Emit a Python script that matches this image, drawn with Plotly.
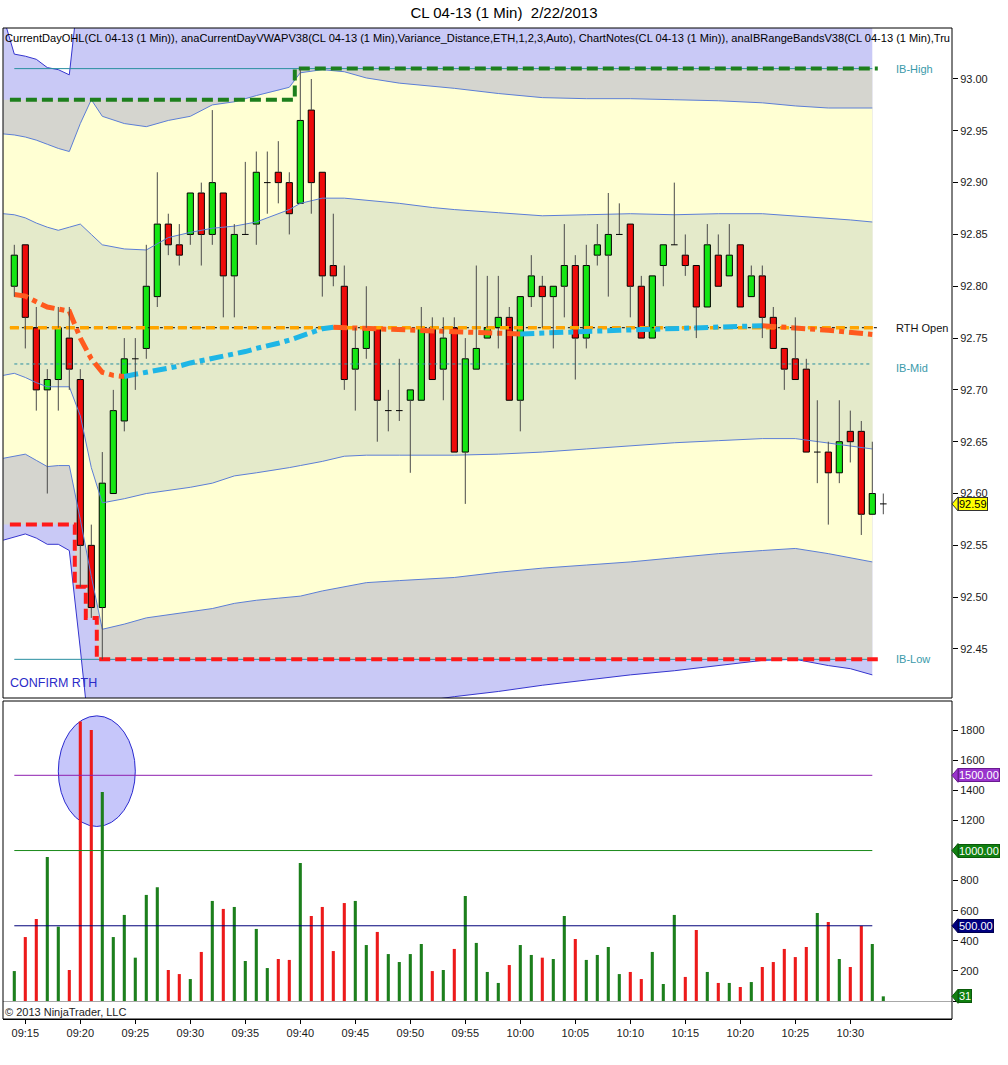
import numpy as np
import plotly.graph_objects as go

# ---------------- data ----------------
TITLE = "CL 04-13 (1 Min)  2/22/2013"
INDICATOR_LABEL = ("CurrentDayOHL(CL 04-13 (1 Min)), anaCurrentDayVWAPV38(CL 04-13 (1 Min),Variance_Distance,"
                   "ETH,1,2,3,Auto), ChartNotes(CL 04-13 (1 Min)), anaIBRangeBandsV38(CL 04-13 (1 Min),Tru")
START_TIME = "09:14"          # first bar on the chart

OPEN = [92.80, 92.84, 92.76, 92.70, 92.71, 92.75, 92.71, 92.55, 92.49, 92.60,
        92.67, 92.73, 92.74, 92.79, 92.86, 92.84, 92.85, 92.89, 92.85, 92.89,
        92.81, 92.85, 92.86, 92.90, 92.91, 92.90, 92.88, 92.97, 92.91, 92.82,
        92.80, 92.72, 92.74, 92.76, 92.68, 92.68, 92.69, 92.69, 92.76, 92.72,
        92.76, 92.64, 92.72, 92.75, 92.76, 92.77, 92.69, 92.79, 92.80, 92.79,
        92.80, 92.82, 92.75, 92.83, 92.83, 92.85, 92.86, 92.80, 92.75, 92.82,
        92.84, 92.83, 92.82, 92.78, 92.83, 92.81, 92.84, 92.79, 92.81, 92.77,
        92.74, 92.73, 92.72, 92.64, 92.64, 92.62, 92.66, 92.66, 92.58, 92.59]
HIGH = [92.84, 92.84, 92.78, 92.72, 92.78, 92.78, 92.72, 92.57, 92.64, 92.70,
        92.75, 92.75, 92.84, 92.91, 92.87, 92.86, 92.89, 92.90, 92.97, 92.89,
        92.86, 92.92, 92.93, 92.93, 92.94, 92.91, 93.01, 93.00, 92.91, 92.87,
        92.82, 92.76, 92.80, 92.76, 92.70, 92.73, 92.70, 92.78, 92.77, 92.77,
        92.77, 92.75, 92.82, 92.81, 92.81, 92.78, 92.79, 92.83, 92.81, 92.80,
        92.86, 92.83, 92.84, 92.86, 92.89, 92.88, 92.86, 92.81, 92.81, 92.84,
        92.90, 92.85, 92.82, 92.86, 92.85, 92.86, 92.84, 92.82, 92.82, 92.78,
        92.74, 92.77, 92.73, 92.69, 92.65, 92.69, 92.68, 92.67, 92.65, 92.60]
LOW = [92.79, 92.74, 92.68, 92.60, 92.68, 92.70, 92.51, 92.48, 92.44, 92.60,
       92.66, 92.70, 92.73, 92.78, 92.83, 92.82, 92.84, 92.82, 92.84, 92.77,
       92.77, 92.85, 92.84, 92.87, 92.88, 92.85, 92.88, 92.87, 92.79, 92.80,
       92.70, 92.68, 92.73, 92.65, 92.66, 92.67, 92.62, 92.69, 92.71, 92.69,
       92.64, 92.59, 92.72, 92.75, 92.74, 92.69, 92.66, 92.78, 92.76, 92.74,
       92.77, 92.71, 92.74, 92.82, 92.79, 92.85, 92.77, 92.75, 92.75, 92.80,
       92.84, 92.81, 92.75, 92.78, 92.80, 92.81, 92.78, 92.79, 92.75, 92.74,
       92.70, 92.71, 92.64, 92.61, 92.57, 92.61, 92.63, 92.56, 92.58, 92.58]
CLOSE = [92.83, 92.77, 92.70, 92.71, 92.76, 92.72, 92.55, 92.49, 92.61, 92.68,
         92.73, 92.73, 92.80, 92.86, 92.84, 92.83, 92.89, 92.85, 92.90, 92.81,
         92.85, 92.85, 92.91, 92.90, 92.90, 92.87, 92.96, 92.90, 92.81, 92.81,
         92.71, 92.74, 92.76, 92.69, 92.68, 92.68, 92.70, 92.76, 92.71, 92.75,
         92.64, 92.73, 92.74, 92.76, 92.77, 92.69, 92.79, 92.81, 92.79, 92.80,
         92.82, 92.75, 92.82, 92.84, 92.85, 92.85, 92.80, 92.75, 92.81, 92.84,
         92.84, 92.82, 92.78, 92.84, 92.80, 92.83, 92.78, 92.81, 92.77, 92.74,
         92.72, 92.71, 92.64, 92.64, 92.62, 92.65, 92.65, 92.58, 92.60, 92.59]
VOLUME = [199, 425, 545, 957, 494, 206, 1857, 1801, 1389, 425,
          572, 288, 705, 756, 206, 179, 146, 326, 665, 612,
          625, 266, 479, 219, 279, 273, 917, 565, 625, 332,
          651, 665, 372, 459, 312, 259, 312, 379, 199, 206,
          346, 698, 386, 193, 120, 239, 372, 306, 288, 279,
          565, 412, 273, 306, 359, 179, 193, 146, 326, 113,
          572, 160, 472, 193, 120, 120, 93, 126, 226, 259,
          346, 292, 359, 585, 525, 279, 226, 499, 379, 31]

# session VWAP, one value per completed bar (09:14 .. 10:32)
VWAP = [92.7920, 92.7905, 92.7850, 92.7800, 92.7780, 92.7760, 92.7500, 92.7300, 92.7170, 92.7140,
        92.7130, 92.7150, 92.7160, 92.7180, 92.7210, 92.7230, 92.7260, 92.7280, 92.7300, 92.7320,
        92.7350, 92.7370, 92.7400, 92.7420, 92.7450, 92.7480, 92.7520, 92.7560, 92.7590, 92.7605,
        92.7600, 92.7596, 92.7592, 92.7588, 92.7585, 92.7581, 92.7578, 92.7574, 92.7570, 92.7566,
        92.7562, 92.7558, 92.7555, 92.7551, 92.7547, 92.7544, 92.7540, 92.7545, 92.7548, 92.7552,
        92.7556, 92.7560, 92.7563, 92.7567, 92.7571, 92.7575, 92.7578, 92.7582, 92.7586, 92.7590,
        92.7593, 92.7597, 92.7601, 92.7605, 92.7608, 92.7612, 92.7615, 92.7618, 92.7620, 92.7614,
        92.7607, 92.7600, 92.7592, 92.7584, 92.7575, 92.7565, 92.7555, 92.7545, 92.7535]

PRE_IB_HIGH = 92.98
PRE_IB_LOW = 92.57
RTH_OPEN = 92.76

# IB range bands (bar offsets from 09:14, price)
BAND_T = [-1, 0, 1, 2, 3, 4, 5, 6, 7, 8, 10, 12, 14, 16, 18, 20, 22, 24, 25, 26,
          28, 30, 32, 35, 38, 40, 44, 48, 52, 56, 60, 64, 68, 71, 74, 76, 78]
BAND_OUTER_TOP = [93.060, 93.024, 93.022, 93.019, 93.011, 93.009, 93.004, 93.100, 93.120, 93.120,
                  93.120, 93.120, 93.120, 93.120, 93.120, 93.120, 93.120, 93.120, 93.120, 93.120,
                  93.120, 93.120, 93.120, 93.120, 93.120, 93.120, 93.120, 93.120, 93.120, 93.120,
                  93.120, 93.120, 93.120, 93.120, 93.120, 93.120, 93.120]
BAND_UPPER = [92.947, 92.946, 92.944, 92.941, 92.937, 92.933, 92.930, 92.957, 92.980, 92.964,
              92.957, 92.954, 92.960, 92.964, 92.975, 92.978, 92.984, 92.989, 92.992, 93.006,
              93.009, 93.007, 93.001, 92.996, 92.993, 92.991, 92.986, 92.982, 92.981, 92.981,
              92.980, 92.979, 92.977, 92.974, 92.972, 92.972, 92.972]
BAND_MID_TOP = [92.870, 92.869, 92.866, 92.861, 92.857, 92.854, 92.857, 92.860, 92.850, 92.840,
                92.836, 92.835, 92.847, 92.852, 92.856, 92.858, 92.862, 92.870, 92.874, 92.880,
                92.885, 92.885, 92.883, 92.880, 92.876, 92.874, 92.871, 92.868, 92.869, 92.870,
                92.869, 92.870, 92.870, 92.868, 92.866, 92.864, 92.862]
BAND_MID_BOT = [92.714, 92.716, 92.712, 92.707, 92.703, 92.703, 92.703, 92.675, 92.625, 92.591,
                92.595, 92.600, 92.603, 92.606, 92.610, 92.617, 92.620, 92.623, 92.625, 92.627,
                92.631, 92.636, 92.637, 92.637, 92.637, 92.637, 92.638, 92.640, 92.643, 92.646,
                92.649, 92.651, 92.653, 92.653, 92.649, 92.646, 92.643]
BAND_LOWER = [92.634, 92.636, 92.638, 92.632, 92.626, 92.627, 92.627, 92.575, 92.520, 92.469,
              92.474, 92.480, 92.483, 92.486, 92.489, 92.494, 92.497, 92.499, 92.500, 92.501,
              92.506, 92.510, 92.514, 92.516, 92.518, 92.519, 92.524, 92.528, 92.531, 92.534,
              92.538, 92.542, 92.545, 92.547, 92.542, 92.538, 92.534]
BAND_OUTER_BOT = [92.555, 92.558, 92.561, 92.557, 92.551, 92.551, 92.545, 92.450, 92.350, 92.350,
                  92.355, 92.360, 92.364, 92.368, 92.371, 92.374, 92.377, 92.379, 92.380, 92.381,
                  92.384, 92.387, 92.390, 92.395, 92.401, 92.404, 92.409, 92.415, 92.420, 92.425,
                  92.429, 92.434, 92.439, 92.440, 92.434, 92.431, 92.425]

VOL_LEVELS = [1500, 1000, 500]
TIME_LABELS = ["09:15", "09:20", "09:25", "09:30", "09:35", "09:40", "09:45", "09:50", "09:55",
               "10:00", "10:05", "10:10", "10:15", "10:20", "10:25", "10:30"]
PRICE_TICKS = [92.45, 92.50, 92.55, 92.60, 92.65, 92.70, 92.75, 92.80, 92.85, 92.90, 92.95, 93.00]
VOLUME_TICKS = [0, 200, 400, 600, 800, 1000, 1200, 1400, 1600, 1800]
HIDDEN_VOLUME_LABELS = [0, 1000]      # covered by the level / last-value tags
NOTE_TEXT = "CONFIRM RTH"
NOTE_POS = (-0.55, 92.417)
NOTE_ELLIPSE = dict(t0=4.0, t1=11.0, v0=1160, v1=1895)
COPYRIGHT = "© 2013 NinjaTrader, LLC"

# ---------------- layout constants ----------------
W, H = 1008, 1065
PL, PR, PT, PB = 3, 952, 28, 1019
UP_BOTTOM_PX, LO_TOP_PX = 698, 701
X_RANGE = [-1.027, 85.245]
P_RANGE = [92.4027, 93.0492]
V_RANGE = [-119.6, 1993.8]
FONT = "Liberation Sans"

def px_x(px):
    return (px - PL) / (PR - PL)

def px_y(py):
    return (PB - py) / (PB - PT)

UP_DOM = [px_y(UP_BOTTOM_PX), 1.0]
LO_DOM = [0.0, px_y(LO_TOP_PX)]

def val_to_paper(v, rng, dom):
    return dom[0] + (v - rng[0]) / (rng[1] - rng[0]) * (dom[1] - dom[0])

def tmin(s):
    h, m = s.split(":")
    return int(h) * 60 + int(m)

o = np.array(OPEN); h = np.array(HIGH); l = np.array(LOW); c = np.array(CLOSE)
n = len(o)
idx = np.arange(n)
last_done = n - 2   # last completed bar drawn by indicators

ib_high = np.maximum(PRE_IB_HIGH, np.maximum.accumulate(h[:last_done + 1]))
ib_low = np.minimum(PRE_IB_LOW, np.minimum.accumulate(l[:last_done + 1]))
ib_mid = (ib_high[-1] + ib_low[-1]) / 2

COL_LAV = "#C9C9F6"
COL_GRAY = "#D5D5CF"
COL_YEL = "#FFFFD3"
COL_LGREEN = "#E4EACA"
COL_BAND = "#5C7ED6"
COL_OUTER = "#3535CF"
COL_TEAL = "#2A8FA0"

fig = go.Figure()
shapes = []

def poly_path(xs, top, bot):
    pts = list(zip(xs, top)) + list(zip(xs[::-1], bot[::-1]))
    return "M " + " L ".join(f"{x:.4f},{y:.5f}" for x, y in pts) + " Z"

def step_points(vals, x_start, x_end):
    pts = [(x_start, vals[0])]
    for k in range(1, len(vals)):
        if vals[k] != vals[k - 1]:
            pts.append((k - 0.5, vals[k - 1]))
            pts.append((k - 0.5, vals[k]))
    pts.append((x_end, vals[-1]))
    return pts

bt = list(BAND_T)
shapes.append(dict(type="path", xref="x", yref="y", layer="below", line=dict(width=0),
                   fillcolor=COL_LAV, path=poly_path(bt, BAND_OUTER_TOP, BAND_OUTER_BOT)))
top_pts = step_points(ib_high, BAND_T[0], BAND_T[-1])
bot_pts = step_points(ib_low, BAND_T[0], BAND_T[-1])
gpts = top_pts + bot_pts[::-1]
shapes.append(dict(type="path", xref="x", yref="y", layer="below", line=dict(width=0),
                   fillcolor=COL_GRAY,
                   path="M " + " L ".join(f"{x:.4f},{y:.5f}" for x, y in gpts) + " Z"))
shapes.append(dict(type="path", xref="x", yref="y", layer="below", line=dict(width=0),
                   fillcolor=COL_YEL, path=poly_path(bt, BAND_UPPER, BAND_LOWER)))
shapes.append(dict(type="path", xref="x", yref="y", layer="below", line=dict(width=0),
                   fillcolor=COL_LGREEN, path=poly_path(bt, BAND_MID_TOP, BAND_MID_BOT)))

for arr, col in [(BAND_OUTER_TOP, COL_OUTER), (BAND_UPPER, COL_BAND), (BAND_MID_TOP, COL_BAND),
                 (BAND_MID_BOT, COL_BAND), (BAND_LOWER, COL_BAND), (BAND_OUTER_BOT, COL_OUTER)]:
    fig.add_trace(go.Scatter(x=bt, y=arr, mode="lines", line=dict(color=col, width=1),
                             hoverinfo="skip", showlegend=False, xaxis="x", yaxis="y"))

for val, dash in [(ib_high[-1], "solid"), (ib_low[-1], "solid"), (ib_mid, "3px,3px")]:
    fig.add_trace(go.Scatter(x=[0, last_done], y=[val, val], mode="lines",
                             line=dict(color=COL_TEAL, width=1, dash=dash),
                             hoverinfo="skip", showlegend=False, xaxis="x", yaxis="y"))

fig.add_trace(go.Scatter(x=[-0.4, last_done + 0.5], y=[RTH_OPEN, RTH_OPEN], mode="lines",
                         line=dict(color="black", width=1, dash="dot"),
                         hoverinfo="skip", showlegend=False, xaxis="x", yaxis="y"))
fig.add_trace(go.Scatter(x=[-0.4, last_done + 0.5], y=[RTH_OPEN, RTH_OPEN], mode="lines",
                         line=dict(color="#FFA500", width=3.5, dash="9px,5px"),
                         hoverinfo="skip", showlegend=False, xaxis="x", yaxis="y"))

step_x = [-0.4] + [k + 0.5 for k in range(last_done)] + [last_done + 0.5]
fig.add_trace(go.Scatter(x=step_x, y=list(ib_high) + [ib_high[-1]], mode="lines", line_shape="hv",
                         line=dict(color="#1D7F1D", width=4, dash="11px,5px"),
                         hoverinfo="skip", showlegend=False, xaxis="x", yaxis="y"))
fig.add_trace(go.Scatter(x=step_x, y=list(ib_low) + [ib_low[-1]], mode="lines", line_shape="hv",
                         line=dict(color="#FF1A1A", width=4, dash="11px,5px"),
                         hoverinfo="skip", showlegend=False, xaxis="x", yaxis="y"))

vw = np.array(VWAP)
up_x, up_y, dn_x, dn_y = [], [], [], []
seg_rising = [vw[i + 1] >= vw[i] for i in range(len(vw) - 1)]
i = 0
while i < len(seg_rising):
    j = i
    while j + 1 < len(seg_rising) and seg_rising[j + 1] == seg_rising[i]:
        j += 1
    xs = list(range(i, j + 2)); ys = list(vw[i:j + 2])
    if seg_rising[i]:
        up_x += xs + [None]; up_y += ys + [None]
    else:
        dn_x += xs + [None]; dn_y += ys + [None]
    i = j + 1
fig.add_trace(go.Scatter(x=dn_x, y=dn_y, mode="lines",
                         line=dict(color="#FF5A1E", width=5, dash="14px,5px,5px,5px"),
                         hoverinfo="skip", showlegend=False, xaxis="x", yaxis="y"))
fig.add_trace(go.Scatter(x=up_x, y=up_y, mode="lines",
                         line=dict(color="#1EB6E6", width=5, dash="14px,5px,5px,5px"),
                         hoverinfo="skip", showlegend=False, xaxis="x", yaxis="y"))

wx, wy = [], []
for k in range(n):
    top = max(o[k], c[k]); bot = min(o[k], c[k])
    if h[k] > top:
        wx += [k, k, None]; wy += [h[k], top, None]
    if l[k] < bot:
        wx += [k, k, None]; wy += [bot, l[k], None]
fig.add_trace(go.Scatter(x=wx, y=wy, mode="lines", line=dict(color="#4A4A4A", width=1),
                         hoverinfo="skip", showlegend=False, xaxis="x", yaxis="y"))
dx, dy = [], []
for k in range(n):
    if o[k] == c[k]:
        dx += [k - 0.3, k + 0.3, None]; dy += [o[k], o[k], None]
fig.add_trace(go.Scatter(x=dx, y=dy, mode="lines", line=dict(color="black", width=1),
                         hoverinfo="skip", showlegend=False, xaxis="x", yaxis="y"))
up_m = c > o; dn_m = c < o
fig.add_trace(go.Bar(x=idx[up_m], y=(c - o)[up_m], base=o[up_m], width=0.56,
                     marker=dict(color="#14E614", line=dict(color="black", width=1)),
                     hoverinfo="skip", showlegend=False, xaxis="x", yaxis="y"))
fig.add_trace(go.Bar(x=idx[dn_m], y=(o - c)[dn_m], base=c[dn_m], width=0.56,
                     marker=dict(color="#EE0A0A", line=dict(color="black", width=1)),
                     hoverinfo="skip", showlegend=False, xaxis="x", yaxis="y"))

vol = np.array(VOLUME)
g_m = c >= o
fig.add_trace(go.Bar(x=idx[g_m], y=vol[g_m], width=0.28, marker=dict(color="#1C7F1C", line=dict(width=0)),
                     hoverinfo="skip", showlegend=False, xaxis="x2", yaxis="y2"))
fig.add_trace(go.Bar(x=idx[~g_m], y=vol[~g_m], width=0.28, marker=dict(color="#EC1A1A", line=dict(width=0)),
                     hoverinfo="skip", showlegend=False, xaxis="x2", yaxis="y2"))
LEVEL_COLS = {1500: "#8E1FB0", 1000: "#1A8A1A", 500: "#00007A"}
for lv in VOL_LEVELS:
    fig.add_trace(go.Scatter(x=[0, last_done], y=[lv, lv], mode="lines",
                             line=dict(color=LEVEL_COLS[lv], width=1),
                             hoverinfo="skip", showlegend=False, xaxis="x2", yaxis="y2"))

shapes.append(dict(type="circle", xref="x2", yref="y2", layer="below",
                   x0=NOTE_ELLIPSE["t0"], x1=NOTE_ELLIPSE["t1"],
                   y0=NOTE_ELLIPSE["v0"], y1=NOTE_ELLIPSE["v1"],
                   fillcolor="rgba(192,192,250,0.9)", line=dict(color="#2A2AD0", width=1)))

for dom in (UP_DOM, LO_DOM):
    shapes.append(dict(type="rect", xref="paper", yref="paper", x0=0, x1=1, y0=dom[0], y1=dom[1],
                       line=dict(color="black", width=1), fillcolor="rgba(0,0,0,0)", layer="above"))

annotations = []
def add_tag(value, rng, dom, yref, text, bg, fg, border):
    yp = val_to_paper(value, rng, dom)
    hh = 7.0 / (PB - PT)
    x0 = px_x(PR); x1 = px_x(PR + 6)
    shapes.append(dict(type="path", xref="paper", yref="paper", layer="above",
                       path=f"M {x0},{yp} L {x1},{yp + hh} L {x1},{yp - hh} Z",
                       fillcolor=bg, line=dict(color=border, width=1)))
    annotations.append(dict(x=x1, xref="paper", xanchor="left", y=value, yref=yref, yanchor="middle",
                            text=text, showarrow=False, bgcolor=bg, bordercolor=border, borderwidth=1,
                            borderpad=0, font=dict(family=FONT, size=11, color=fg)))

add_tag(CLOSE[-1], P_RANGE, UP_DOM, "y", f"{CLOSE[-1]:.2f}", "#FFFF00", "black", "#333333")
add_tag(1500, V_RANGE, LO_DOM, "y2", f"{1500:.2f}", "#9933CC", "white", "#6A1A90")
add_tag(1000, V_RANGE, LO_DOM, "y2", f"{1000:.2f}", "#108010", "white", "#0A5A0A")
add_tag(500, V_RANGE, LO_DOM, "y2", f"{500:.2f}", "#00007F", "white", "#000050")
add_tag(VOLUME[-1], V_RANGE, LO_DOM, "y2", f"{VOLUME[-1]}", "#108010", "white", "#0A5A0A")

for text, val, col in [("IB-High", ib_high[-1], "#3A9AAA"), ("RTH Open", RTH_OPEN, "#111111"),
                       ("IB-Mid", ib_mid - 0.004, "#3A9AAA"), ("IB-Low", ib_low[-1], "#3A9AAA")]:
    annotations.append(dict(x=last_done + 1.95, xref="x", xanchor="left", y=val, yref="y", yanchor="middle",
                            text=text, showarrow=False, font=dict(family=FONT, size=11, color=col)))

annotations.append(dict(x=NOTE_POS[0], xref="x", xanchor="left", y=NOTE_POS[1], yref="y", yanchor="middle",
                        text=NOTE_TEXT, showarrow=False, font=dict(family=FONT, size=12.5, color="#2B2BC8")))
annotations.append(dict(x=0.0, xref="paper", xanchor="left", y=px_y(38), yref="paper", yanchor="middle",
                        text=INDICATOR_LABEL, showarrow=False,
                        font=dict(family=FONT, size=11.1, color="black")))
annotations.append(dict(x=0.0, xref="paper", xanchor="left", y=px_y(1012), yref="paper", yanchor="middle",
                        text=COPYRIGHT, showarrow=False, font=dict(family=FONT, size=11, color="#222222")))

t0 = tmin(START_TIME)
tick_pos = [tmin(s) - t0 for s in TIME_LABELS]

fig.update_layout(
    width=W, height=H,
    margin=dict(l=PL, r=W - PR, t=PT, b=H - PB),
    paper_bgcolor="white", plot_bgcolor="white",
    barmode="overlay", showlegend=False,
    title=dict(text=TITLE, x=0.5, xref="container", xanchor="center",
               y=1 - 13 / H, yref="container", yanchor="middle",
               font=dict(family=FONT, size=15, color="black")),
    font=dict(family=FONT, size=11, color="#1a1a1a"),
    xaxis=dict(domain=[0, 1], anchor="y", range=X_RANGE, showticklabels=False, ticks="",
               showgrid=False, zeroline=False, showline=False),
    xaxis2=dict(domain=[0, 1], anchor="y2", matches="x", range=X_RANGE, tickmode="array",
                tickvals=tick_pos, ticktext=TIME_LABELS, ticks="outside", ticklen=4, tickcolor="black",
                showgrid=False, zeroline=False, showline=True, linecolor="black",
                tickfont=dict(family=FONT, size=11, color="#1a1a1a")),
    yaxis=dict(domain=UP_DOM, range=P_RANGE, side="right", tickmode="array", tickvals=PRICE_TICKS,
               ticktext=[f"{v:.2f}" for v in PRICE_TICKS], ticks="outside", ticklen=5, tickcolor="black",
               showgrid=False, zeroline=False, showline=False,
               tickfont=dict(family=FONT, size=11, color="#1a1a1a")),
    yaxis2=dict(domain=LO_DOM, range=V_RANGE, side="right", tickmode="array", tickvals=VOLUME_TICKS,
                ticktext=["" if v in HIDDEN_VOLUME_LABELS else str(v) for v in VOLUME_TICKS],
                ticks="outside", ticklen=5, tickcolor="black",
                showgrid=False, zeroline=True, zerolinecolor="#A8A8A8", zerolinewidth=1, showline=False,
                tickfont=dict(family=FONT, size=11, color="#1a1a1a")),
    shapes=shapes, annotations=annotations,
)

fig.write_html("out.html", config={"displayModeBar": False},
               post_script="document.body.style.margin='0';document.body.style.overflow='hidden';")
